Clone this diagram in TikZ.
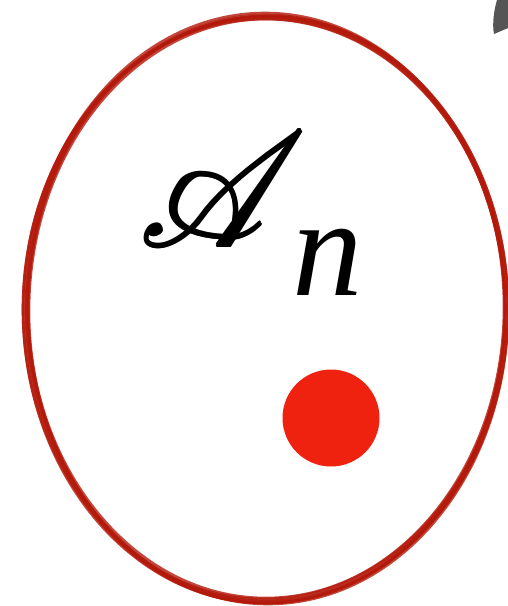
\documentclass[tikz,border=0pt]{standalone}
\usepackage{amsmath}
\usepackage{mathrsfs}
\usepackage{fontspec}
\newfontfamily\idxfont{Liberation Serif}
\newcommand{\heavyscr}[1]{\rlap{$\mathscr{#1}$}\raisebox{0.07pt}{\rlap{$\mathscr{#1}$}}\kern0.09pt$\mathscr{#1}$}
\definecolor{rimred}{HTML}{B3190A}
\definecolor{dotred}{HTML}{EE220F}
\definecolor{markgray}{HTML}{555555}
\tikzset{
  rim/.style={draw=rimred,line width=1.3pt,line cap=round,draw opacity=0.8},
  point/.style={circle,fill=dotred,inner sep=0pt,minimum size=48.5pt},
  bigtext/.style={inner sep=0pt,scale=8}
}

\begin{document}
\begin{tikzpicture}[x=0.5pt,y=-0.5pt]
\useasboundingbox (0,0) rectangle (508,606);

% hand drawn rim, several passes
\foreach \dx/\dy/\rx/\ry in {0/0/239/293, 1/1/241/292, -1/0/240/295,
  0/-1/238/291, 2/2/240/294, -1/2/242/293, 1/3/238/292, -2/1/241/290}
  \draw[rim] (266+\dx,308+\dy) ellipse [x radius=\rx, y radius=\ry];

\node[bigtext,scale=1.02,anchor=base] (set) at (223,247) {\heavyscr{A}};
\node[bigtext,scale=0.88,anchor=base] (idx) at (328,295) {\idxfont\itshape n};

\node[point] (elem) at (331,418) {};

% cut-off mark in the corner
\fill[markgray] (508,0) -- (497,0) .. controls (494,10) and (492,24) .. (494,34)
  -- (508,28) -- cycle;

\end{tikzpicture}
\end{document}
